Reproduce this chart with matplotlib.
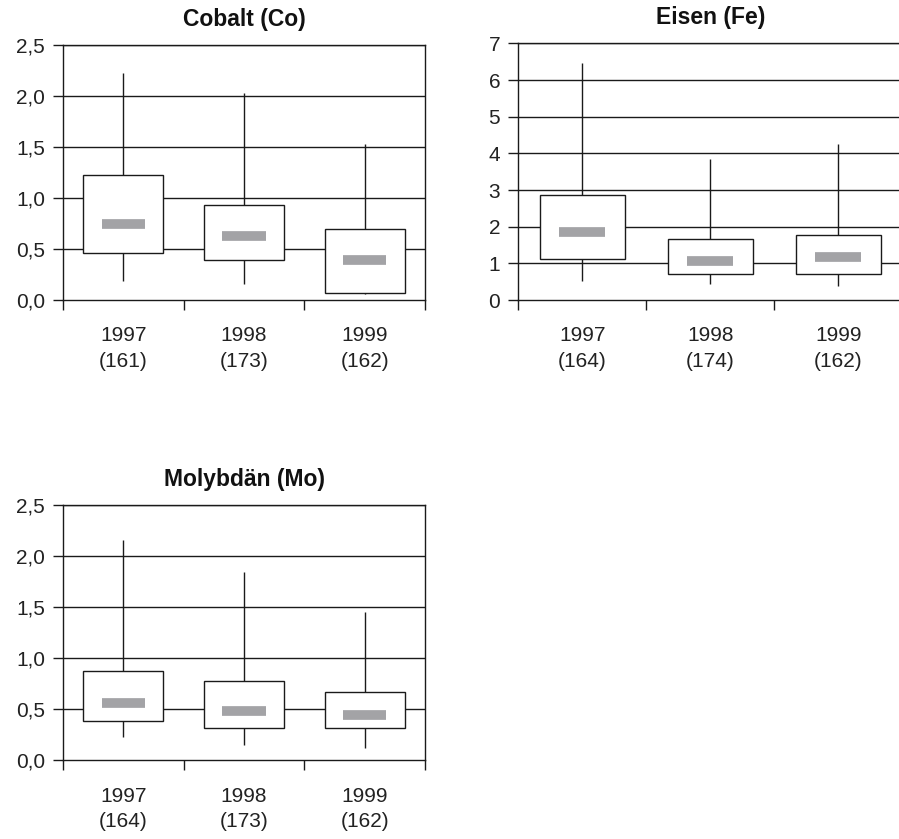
import matplotlib
matplotlib.use('Agg')
import matplotlib.pyplot as plt
from matplotlib.ticker import FuncFormatter

plt.rcParams['font.family'] = ['Liberation Sans', 'DejaVu Sans']

# data
years = ['1997', '1998', '1999']

co_n = [161, 173, 162]
co_min = [0.19, 0.157, 0.055]
co_q1 = [0.46, 0.39, 0.069]
co_med = [0.75, 0.63, 0.39]
co_q3 = [1.226, 0.927, 0.695]
co_max = [2.23, 2.03, 1.53]

fe_n = [164, 174, 162]
fe_min = [0.51, 0.45, 0.39]
fe_q1 = [1.13, 0.70, 0.71]
fe_med = [1.85, 1.07, 1.17]
fe_q3 = [2.86, 1.67, 1.78]
fe_max = [6.48, 3.84, 4.27]

mo_n = [164, 173, 162]
mo_min = [0.232, 0.15, 0.124]
mo_q1 = [0.382, 0.317, 0.317]
mo_med = [0.558, 0.483, 0.444]
mo_q3 = [0.878, 0.777, 0.666]
mo_max = [2.16, 1.84, 1.45]

LINE = '#1a1a1a'
MED = '#a3a3a6'
FS = 15


def panel(ax, title, n, lo, q1, med, q3, hi, ymax, ystep, dec):
    x = [i + 0.5 for i in range(len(years))]
    # gridlines
    yt = [i * ystep for i in range(int(round(ymax / ystep)) + 1)]
    for y in yt[1:]:
        ax.axhline(y, color=LINE, lw=1.0, zorder=1)
    # whiskers
    ax.vlines(x, lo, hi, color=LINE, lw=1.0, zorder=2)
    # boxes
    ax.bar(x, [b - a for a, b in zip(q1, q3)], bottom=q1, width=0.665,
           color='white', edgecolor=LINE, lw=1.0, zorder=3)
    # medians
    ax.hlines(med, [v - 0.18 for v in x], [v + 0.18 for v in x],
              color=MED, lw=7, zorder=4, capstyle='butt')

    ax.set_xlim(0, 3)
    ax.set_ylim(0, ymax)
    ax.set_yticks(yt)
    if dec:
        ax.yaxis.set_major_formatter(FuncFormatter(lambda v, p: f'{v:.1f}'.replace('.', ',')))
    else:
        ax.yaxis.set_major_formatter(FuncFormatter(lambda v, p: f'{v:.0f}'))
    ax.set_xticks([0, 1, 2, 3])
    ax.set_xticklabels([])
    ax.set_xticks(x, minor=True)
    ax.set_xticklabels([f'{yr}\n({k})' for yr, k in zip(years, n)], minor=True,
                       linespacing=1.45)
    ax.tick_params(axis='x', which='minor', length=0, pad=19, labelsize=FS, colors='#222222')
    ax.tick_params(axis='x', which='major', length=7, width=1.0, direction='out', color=LINE)
    ax.tick_params(axis='y', length=7, width=1.0, direction='out', pad=6,
                   labelsize=FS, colors='#222222')
    ax.tick_params(axis='y', color=LINE)
    for s in ax.spines.values():
        s.set_color(LINE)
        s.set_linewidth(1.0)
    ax.set_title(title, fontsize=16.5, fontweight='bold', pad=14, color='#111111')


fig = plt.figure(figsize=(8.99, 8.39), dpi=100)
ax1 = fig.add_axes([0.0701, 0.6424, 0.4027, 0.3039])
ax2 = fig.add_axes([0.5765, 0.6424, 0.4271, 0.3058])
ax3 = fig.add_axes([0.0701, 0.0938, 0.4027, 0.3043])

panel(ax1, 'Cobalt (Co)', co_n, co_min, co_q1, co_med, co_q3, co_max, 2.5, 0.5, True)
panel(ax2, 'Eisen (Fe)', fe_n, fe_min, fe_q1, fe_med, fe_q3, fe_max, 7, 1, False)
panel(ax3, 'Molybdän (Mo)', mo_n, mo_min, mo_q1, mo_med, mo_q3, mo_max, 2.5, 0.5, True)

fig.savefig('out.png', dpi=100)
